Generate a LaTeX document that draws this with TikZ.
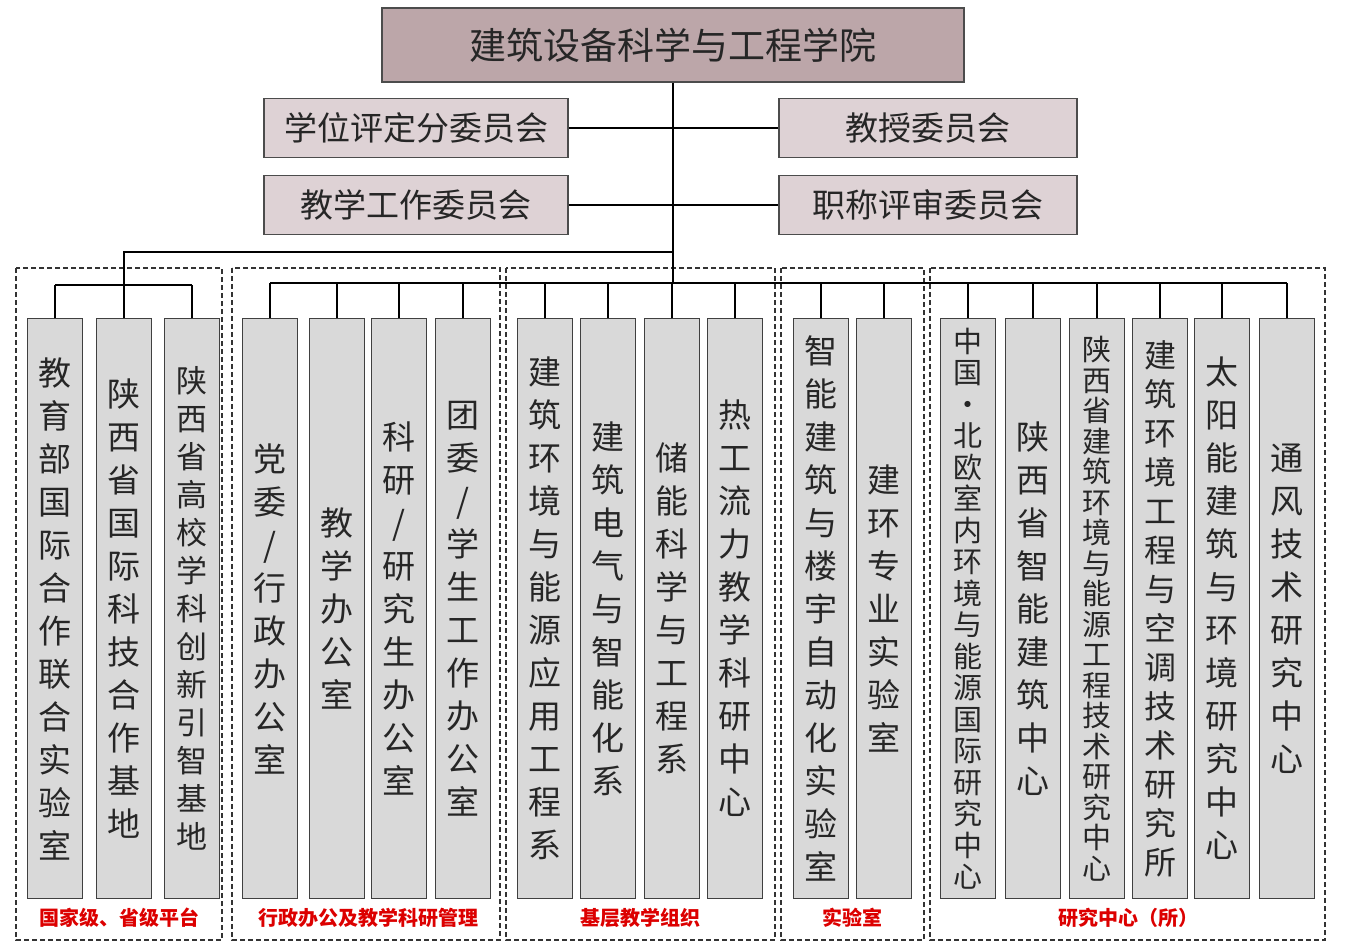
\documentclass[tikz,border=0pt]{standalone}
\usepackage{fontspec}
\setmainfont{Noto Sans CJK SC}
\begin{document}
\begin{tikzpicture}[x=1pt,y=-1pt,
  topbox/.style={draw=black!70,line width=1.3pt,fill={rgb,255:red,188;green,166;blue,169},minimum width=582pt,minimum height=74pt,font=\fontsize{37}{40}\selectfont,text=black!85},
  cbox/.style={draw=black!70,line width=1.3pt,fill={rgb,255:red,222;green,210;blue,213},minimum height=59pt,font=\fontsize{33}{36}\selectfont,text=black!85},
  vbox/.style={draw=black!75,line width=1.2pt,fill={rgb,255:red,217;green,217;blue,217},minimum width=55pt,minimum height=580pt,anchor=north,align=center,text=black!85,inner sep=0pt},
  vA/.style={vbox,font=\fontsize{33}{43}\selectfont},
  vB/.style={vbox,font=\fontsize{31}{38}\selectfont},
  vC/.style={vbox,font=\fontsize{29}{31.5}\selectfont},
  grp/.style={draw=black!80,dash pattern=on 5pt off 3pt,line width=1.3pt},
  glab/.style={text={rgb,255:red,220;green,0;blue,0},font=\fontsize{20}{22}\selectfont\bfseries},
  ln/.style={draw=black,line width=2.4pt}]
\useasboundingbox (0,0) rectangle (1346,951);
\node[topbox] (top) at (673,45) {建筑设备科学与工程学院};
\node[cbox,minimum width=304pt] (c1) at (416,128) {学位评定分委员会};
\node[cbox,minimum width=298pt] (c2) at (928,128) {教授委员会};
\node[cbox,minimum width=304pt] (c3) at (416,205) {教学工作委员会};
\node[cbox,minimum width=298pt] (c4) at (928,205) {职称评审委员会};
% groups
\draw[grp] (16,268) rectangle (222,940);
\draw[grp] (232,268) rectangle (500,940);
\draw[grp] (506,268) rectangle (775,940);
\draw[grp] (781,268) rectangle (924,940);
\draw[grp] (930,268) rectangle (1325,940);
\node[glab] (g1) at (119,918) {国家级、省级平台};
\node[glab] (g2) at (368,918) {行政办公及教学科研管理};
\node[glab] (g3) at (640,918) {基层教学组织};
\node[glab] (g4) at (852,918) {实验室};
\node[glab] (g5) at (1128,918) {研究中心（所）};
% vertical boxes
\node[vA] (b1) at (55,318) {教\\育\\部\\国\\际\\合\\作\\联\\合\\实\\验\\室};
\node[vA] (b2) at (124,318) {陕\\西\\省\\国\\际\\科\\技\\合\\作\\基\\地};
\node[vB] (b3) at (192,318) {陕\\西\\省\\高\\校\\学\\科\\创\\新\\引\\智\\基\\地};
\node[vA] (b4) at (270,318) {党\\委\\/\\行\\政\\办\\公\\室};
\node[vA] (b5) at (337,318) {教\\学\\办\\公\\室};
\node[vA] (b6) at (399,318) {科\\研\\/\\研\\究\\生\\办\\公\\室};
\node[vA] (b7) at (463,318) {团\\委\\/\\学\\生\\工\\作\\办\\公\\室};
\node[vA] (b8) at (545,318) {建\\筑\\环\\境\\与\\能\\源\\应\\用\\工\\程\\系};
\node[vA] (b9) at (608,318) {建\\筑\\电\\气\\与\\智\\能\\化\\系};
\node[vA] (b10) at (672,318) {储\\能\\科\\学\\与\\工\\程\\系};
\node[vA] (b11) at (735,318) {热\\工\\流\\力\\教\\学\\科\\研\\中\\心};
\node[vA] (b12) at (821,318) {智\\能\\建\\筑\\与\\楼\\宇\\自\\动\\化\\实\\验\\室};
\node[vA] (b13) at (884,318) {建\\环\\专\\业\\实\\验\\室};
\node[vC] (b14) at (968,318) {中\\国\\·\\北\\欧\\室\\内\\环\\境\\与\\能\\源\\国\\际\\研\\究\\中\\心};
\node[vA] (b15) at (1033,318) {陕\\西\\省\\智\\能\\建\\筑\\中\\心};
\node[vC,font=\fontsize{29}{30.5}\selectfont] (b16) at (1097,318) {陕\\西\\省\\建\\筑\\环\\境\\与\\能\\源\\工\\程\\技\\术\\研\\究\\中\\心};
\node[vB,font=\fontsize{32}{39}\selectfont] (b17) at (1160,318) {建\\筑\\环\\境\\工\\程\\与\\空\\调\\技\\术\\研\\究\\所};
\node[vA] (b18) at (1222,318) {太\\阳\\能\\建\\筑\\与\\环\\境\\研\\究\\中\\心};
\node[vA] (b19) at (1287,318) {通\\风\\技\\术\\研\\究\\中\\心};
% connectors
\coordinate (t1) at (673,283);
\coordinate (k1) at (673,252);
\coordinate (k2) at (124,252);
\coordinate (k3) at (124,285);
\draw[ln] (top.south) -- (t1);
\draw[ln] (c1.east) -- (c2.west);
\draw[ln] (c3.east) -- (c4.west);
\draw[ln] (k1) -- (k2) -- (k3);
\draw[ln] (55,285) -- (192,285);
\foreach \b in {b1,b2,b3}{\draw[ln] (\b.north) -- (\b.north |- k3);}
\draw[ln] (270,283) -- (1287,283);
\foreach \b in {b4,b5,b6,b7,b8,b9,b10,b11,b12,b13,b14,b15,b16,b17,b18,b19}{\draw[ln] (\b.north) -- (\b.north |- t1);}
\end{tikzpicture}
\end{document}
